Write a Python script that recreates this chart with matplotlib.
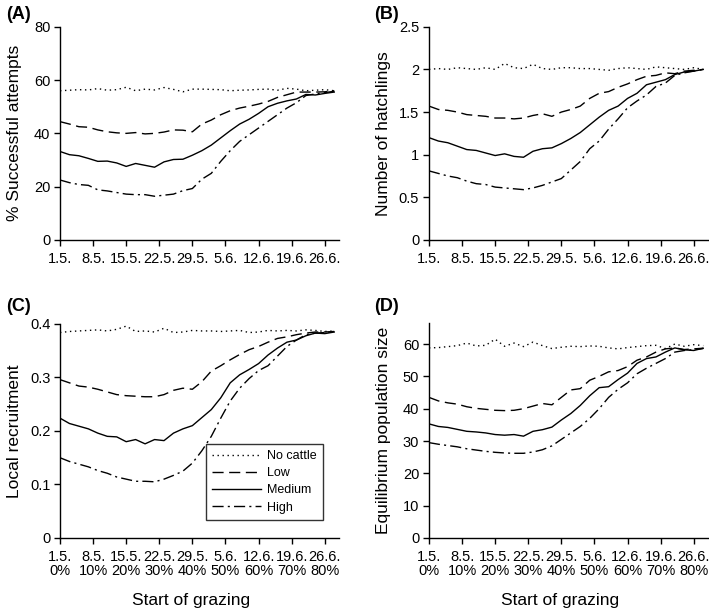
import matplotlib
matplotlib.use('Agg')
import matplotlib.pyplot as plt

# start of grazing, days after 1 May (every second day)
day = list(range(0, 59, 2))

date_ticks = [0, 7, 14, 21, 28, 35, 42, 49, 56]
date_labels = ['1.5.', '8.5.', '15.5.', '22.5.', '29.5.', '5.6.', '12.6.', '19.6.', '26.6.']
pct_labels = ['0%', '10%', '20%', '30%', '40%', '50%', '60%', '70%', '80%']

series_names = ['No cattle', 'Low', 'Medium', 'High']

# (A) % successful attempts
A_none = [56.0, 56.2, 56.4, 56.3, 56.8, 56.2, 56.4, 57.3, 56.0, 56.6, 56.3, 57.2, 56.5, 55.6, 56.6,
          56.6, 56.5, 56.4, 56.0, 56.2, 56.3, 56.5, 56.6, 56.2, 56.9, 56.6, 56.0, 56.2, 56.4, 56.0]
A_low = [44.4, 43.5, 42.5, 42.3, 41.3, 40.6, 40.2, 40.0, 40.3, 39.8, 40.0, 40.5, 41.3, 41.2, 40.6,
         43.5, 45.0, 47.0, 48.5, 49.5, 50.2, 51.0, 52.0, 53.5, 54.5, 55.5, 55.5, 55.5, 55.6, 56.0]
A_med = [33.2, 32.0, 31.6, 30.6, 29.5, 29.6, 28.9, 27.6, 28.7, 28.0, 27.3, 29.3, 30.2, 30.3, 31.8,
         33.5, 35.6, 38.3, 41.0, 43.5, 45.3, 47.5, 50.0, 51.3, 52.2, 52.9, 54.6, 54.4, 55.0, 55.5]
A_high = [22.5, 21.5, 20.8, 20.5, 18.8, 18.4, 17.8, 17.2, 17.0, 17.0, 16.4, 16.8, 17.2, 18.5, 19.3,
          22.8, 25.0, 29.5, 33.5, 37.0, 39.5, 42.0, 44.5, 47.0, 49.5, 51.5, 54.2, 54.8, 55.3, 55.8]

# (B) number of hatchlings
B_none = [2.00, 2.01, 2.00, 2.02, 2.01, 2.00, 2.02, 2.00, 2.07, 2.02, 2.01, 2.06, 2.01, 2.00, 2.02,
          2.02, 2.01, 2.01, 2.00, 1.99, 2.01, 2.02, 2.01, 2.00, 2.03, 2.02, 2.01, 2.00, 2.02, 2.00]
B_low = [1.57, 1.53, 1.52, 1.50, 1.47, 1.46, 1.45, 1.43, 1.43, 1.42, 1.43, 1.46, 1.48, 1.45, 1.50,
         1.53, 1.57, 1.66, 1.72, 1.74, 1.79, 1.83, 1.88, 1.92, 1.93, 1.96, 1.95, 1.98, 1.99, 2.00]
B_med = [1.20, 1.16, 1.14, 1.10, 1.06, 1.05, 1.02, 0.99, 1.01, 0.98, 0.97, 1.04, 1.07, 1.08, 1.13,
         1.19, 1.26, 1.35, 1.44, 1.52, 1.57, 1.66, 1.72, 1.82, 1.85, 1.88, 1.94, 1.97, 1.98, 2.00]
B_high = [0.81, 0.78, 0.75, 0.73, 0.69, 0.66, 0.65, 0.62, 0.61, 0.60, 0.59, 0.61, 0.64, 0.68, 0.72,
          0.82, 0.92, 1.07, 1.16, 1.30, 1.42, 1.55, 1.63, 1.70, 1.80, 1.84, 1.93, 1.96, 1.98, 2.00]

# (C) local recruitment
C_none = [0.384, 0.386, 0.387, 0.388, 0.389, 0.387, 0.390, 0.396, 0.386, 0.387, 0.385, 0.392, 0.384, 0.385, 0.388,
          0.387, 0.387, 0.386, 0.387, 0.388, 0.384, 0.385, 0.388, 0.387, 0.388, 0.387, 0.389, 0.388, 0.386, 0.387]
C_low = [0.296, 0.290, 0.284, 0.282, 0.278, 0.273, 0.268, 0.266, 0.265, 0.264, 0.264, 0.268, 0.276, 0.280, 0.278,
         0.292, 0.312, 0.322, 0.333, 0.343, 0.352, 0.358, 0.366, 0.373, 0.376, 0.380, 0.383, 0.385, 0.385, 0.386]
C_med = [0.224, 0.214, 0.209, 0.204, 0.196, 0.190, 0.189, 0.180, 0.184, 0.176, 0.184, 0.182, 0.196, 0.204, 0.210,
         0.225, 0.240, 0.262, 0.290, 0.305, 0.315, 0.326, 0.342, 0.355, 0.366, 0.370, 0.378, 0.383, 0.382, 0.385]
C_high = [0.150, 0.143, 0.138, 0.133, 0.126, 0.121, 0.114, 0.110, 0.106, 0.106, 0.105, 0.110, 0.117, 0.125, 0.140,
          0.163, 0.190, 0.224, 0.256, 0.280, 0.298, 0.313, 0.322, 0.340, 0.358, 0.370, 0.380, 0.383, 0.384, 0.385]

# (D) equilibrium population size
D_none = [58.8, 58.9, 59.2, 59.5, 60.3, 59.4, 59.6, 61.5, 59.3, 60.3, 59.2, 60.6, 59.5, 58.6, 59.0,
          59.3, 59.2, 59.4, 59.3, 58.8, 58.5, 58.9, 59.2, 59.5, 59.6, 58.6, 60.0, 59.3, 59.8, 59.5]
D_low = [43.5, 42.4, 41.8, 41.4, 40.6, 40.1, 39.8, 39.5, 39.4, 39.5, 40.0, 40.8, 41.6, 41.2, 43.5,
         45.8, 46.2, 48.8, 50.0, 51.4, 51.8, 53.0, 55.0, 56.0, 57.5, 58.5, 58.8, 58.3, 58.5, 58.7]
D_med = [35.3, 34.5, 34.2, 33.6, 33.0, 32.8, 32.5, 32.0, 31.8, 32.0, 31.5, 33.0, 33.5, 34.3, 36.5,
         38.5, 41.0, 44.0, 46.5, 46.8, 49.0, 51.0, 54.0, 55.5, 56.0, 57.5, 58.8, 58.2, 58.0, 58.7]
D_high = [29.5, 29.0, 28.6, 28.2, 27.6, 27.2, 26.8, 26.5, 26.3, 26.2, 26.2, 26.6, 27.3, 28.5, 30.5,
          32.5, 34.5, 37.0, 40.0, 43.5, 46.0, 48.0, 50.8, 52.5, 54.0, 55.5, 57.5, 58.0, 58.3, 58.6]

styles = [(0, (1, 2.6)), (0, (8, 4)), '-', (0, (8, 3, 1.5, 3))]

plt.rcParams['font.family'] = ['Liberation Sans', 'DejaVu Sans']


def panel(ax, data, ylim, yticks, ylabel, bottom_row):
    for vals, ls, name in zip(data, styles, series_names):
        ax.plot(day, vals, color='black', linestyle=ls, linewidth=1.0, label=name)
    ax.set_xlim(0, 59)
    ax.set_ylim(*ylim)
    ax.set_yticks(yticks)
    ax.set_xticks(date_ticks)
    if bottom_row:
        ax.set_xticklabels([d + '\n' + p for d, p in zip(date_labels, pct_labels)])
        for t in ax.get_xticklabels():
            t.set_linespacing(1.0)
        ax.set_xlabel('Start of grazing', fontsize=12.5)
        ax.xaxis.set_label_coords(0.47, -0.255)
    else:
        ax.set_xticklabels(date_labels)
    ax.set_ylabel(ylabel, fontsize=12.5)
    ax.yaxis.set_label_coords(-0.135, 0.5)
    ax.spines['top'].set_visible(False)
    ax.spines['right'].set_visible(False)
    for s in ['left', 'bottom']:
        ax.spines[s].set_linewidth(1.0)
    ax.tick_params(direction='out', length=4, width=1.0, labelsize=10.5, pad=3)
    ax.tick_params(axis='x', pad=4.5)


def main():
    fig = plt.figure(figsize=(7.09, 6.09), dpi=100)
    axA = fig.add_axes([0.0846, 0.606, 0.3935, 0.350])
    axB = fig.add_axes([0.605, 0.606, 0.3935, 0.350])
    axC = fig.add_axes([0.0846, 0.1166, 0.3935, 0.3514])
    axD = fig.add_axes([0.605, 0.1166, 0.3935, 0.3530])

    panel(axA, [A_none, A_low, A_med, A_high], (0, 80), [0, 20, 40, 60, 80],
          '% Successful attempts', False)
    panel(axB, [B_none, B_low, B_med, B_high], (0, 2.5), [0, 0.5, 1, 1.5, 2, 2.5],
          'Number of hatchlings', False)
    axB.set_yticklabels(['0', '0.5', '1', '1.5', '2', '2.5'])
    panel(axC, [C_none, C_low, C_med, C_high], (0, 0.4), [0, 0.1, 0.2, 0.3, 0.4],
          'Local recruitment', True)
    axC.set_yticklabels(['0', '0.1', '0.2', '0.3', '0.4'])
    panel(axD, [D_none, D_low, D_med, D_high], (0, 66.5), [0, 10, 20, 30, 40, 50, 60],
          'Equilibrium population size', True)

    leg = axC.legend(loc='lower left', bbox_to_anchor=(0.50, 0.055), fontsize=9,
                     frameon=True, fancybox=False, handlelength=3.9, handletextpad=0.5,
                     labelspacing=0.42, borderpad=0.5)
    leg.get_frame().set_edgecolor('black')
    leg.get_frame().set_linewidth(1.0)

    for label, x, y in [('(A)', 0.008, 0.99), ('(B)', 0.527, 0.99),
                        ('(C)', 0.008, 0.51), ('(D)', 0.527, 0.51)]:
        fig.text(x, y, label, fontsize=13, fontweight='bold', ha='left', va='top')

    fig.savefig('out.png', dpi=100)


if __name__ == "__main__":
    main()
